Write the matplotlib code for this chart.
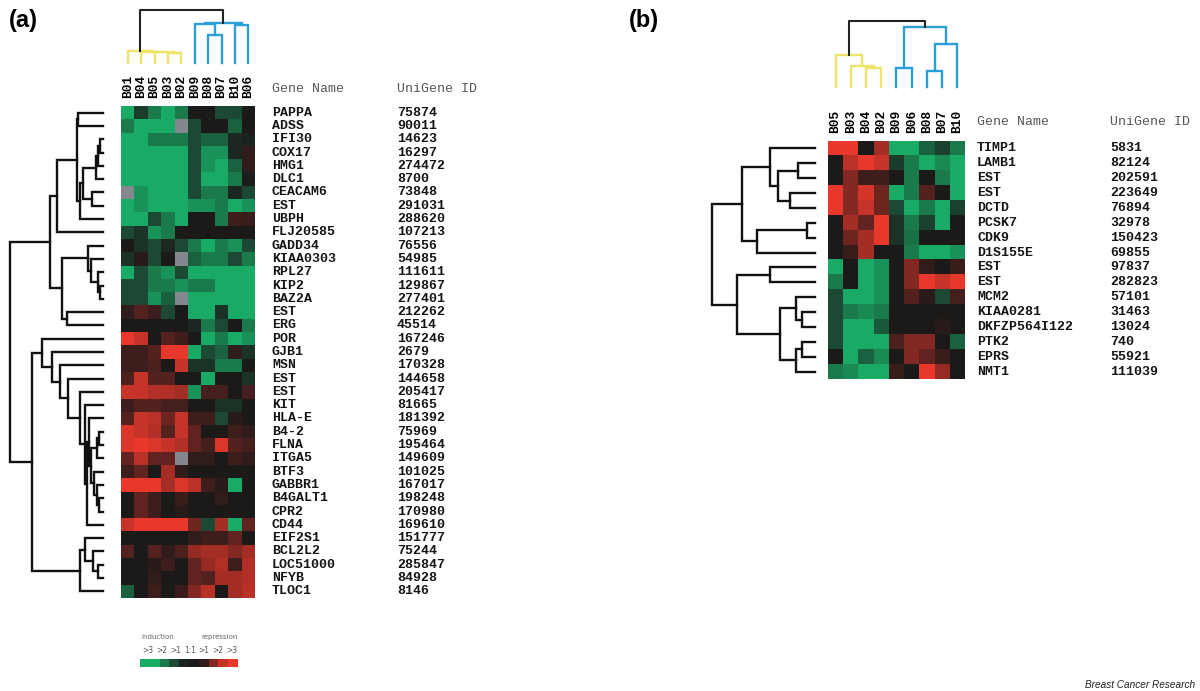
import numpy as np
import matplotlib.pyplot as plt
from matplotlib.colors import LinearSegmentedColormap

# ---------------- panel (a) data ----------------
cols_a = ['B01', 'B04', 'B05', 'B03', 'B02', 'B09', 'B08', 'B07', 'B10', 'B06']
genes_a = ['PAPPA', 'ADSS', 'IFI30', 'COX17', 'HMG1', 'DLC1', 'CEACAM6', 'EST', 'UBPH',
           'FLJ20585', 'GADD34', 'KIAA0303', 'RPL27', 'KIP2', 'BAZ2A', 'EST', 'ERG', 'POR',
           'GJB1', 'MSN', 'EST', 'EST', 'KIT', 'HLA-E', 'B4-2', 'FLNA', 'ITGA5', 'BTF3',
           'GABBR1', 'B4GALT1', 'CPR2', 'CD44', 'EIF2S1', 'BCL2L2', 'LOC51000', 'NFYB', 'TLOC1']
ids_a = ['75874', '90011', '14623', '16297', '274472', '8700', '73848', '291031', '288620',
         '107213', '76556', '54985', '111611', '129867', '277401', '212262', '45514', '167246',
         '2679', '170328', '144658', '205417', '81665', '181392', '75969', '195464', '149609',
         '101025', '167017', '198248', '170980', '169610', '151777', '75244', '285847', '84928',
         '8146']
# log ratio style values: negative = induction (green), positive = repression (red), None = missing
vals_a = [
    [-3, -0.7, -2, -3, -2, 0, 0, -1, -1, 0],
    [-2, -3, -3, -3, None, -1, 0, 0, -1.5, 0],
    [-3, -3, -2, -2, -2, -1, -1.5, -1.5, -0.3, -0.2],
    [-3, -3, -3, -3, -3, -1, -2.5, -2.5, -0.3, 0.3],
    [-3, -3, -3, -3, -3, -1, -2.5, -3, -1.5, 0.3],
    [-3, -3, -3, -3, -3, -1, -3, -3, -2, -0.1],
    [None, -2.5, -3, -3, -3, -1, -2, -2, -0.3, -1],
    [-3, -2.5, -3, -3, -3, -2.5, -2.5, -2, -3, -2.5],
    [-3, -3, -1, -2, -3, 0, 0, -2, 0.5, 0.4],
    [-1, -0.5, -2.5, -2, 0, 0, 0, 0, 0, 0],
    [0, -0.5, -1, -0.3, -1, -2, -3, -2, -2.5, -1],
    [-0.5, 0.2, -1, 0, None, -1.5, -2, -2, -1, -2],
    [-3, -1, -2, -2.5, -1, -3, -3, -3, -3, -3],
    [-1, -1, -2, -2, -2.5, -2, -2, -3, -3, -3],
    [-1, -1, -2.5, -1.5, None, -3, -3, -3, -3, -3],
    [0.3, 0.8, 0.5, -1, 0, -3, -3, -0.5, -3, -3],
    [0, 0, 0, 0, 0, -0.3, -2, -1, 0, -2],
    [3, 2.5, 0, 0.8, 0.5, 0, -3, -2, -3, -2.5],
    [0.5, 0.5, 0.8, 3, 3, -3, -1, -1.5, 0.3, -0.5],
    [0.5, 0.5, 0.7, 0, 2.5, -0.5, -0.5, -2, -2, 0],
    [0.7, 2.5, 0.8, 0.8, 0, 0, -3, 0, 0, -0.5],
    [2.5, 2.5, 2.2, 2.2, 2, -2.5, 0.6, 0.6, 0, 0.6],
    [0.5, 0.8, 0.8, 0.6, 0.6, 0, 0, -0.5, -0.5, 0],
    [0.8, 2.5, 2.3, 1.2, 2.5, 0.5, 0.5, -1, 0.2, 0],
    [2.8, 2.5, 2.2, 0.8, 2.5, 1, 0, 0, 0.5, 0.3],
    [2.8, 3, 2.8, 2.5, 2.2, 1, 0.6, 2.8, 0.8, 0.6],
    [1, 2.3, 1, 1, None, 0.3, 0.3, 0, 0.5, 0.3],
    [0.5, 1, 0, 2, 0.3, 0, 0, 0, 0, 0],
    [3, 3, 3, 2, 2.8, 2.3, 0.5, 0.2, -3, 0],
    [0, 1, 0.5, 0, 0.4, 0, 0, 0.3, 0, 0],
    [0, 1, 0.5, 0, 0.2, 0, 0, 0, 0, 0],
    [2.5, 3, 3, 3, 3, 1.2, -1, 2, -3, 1],
    [0, 0, 0, 0, 0, 0.3, 0.5, 0.5, 1, 0],
    [0.8, 0, 0.8, 0.3, 0.7, 1.8, 2, 2, 1.5, 2],
    [0, 0, 0.2, 0.5, 0, 1, 1.8, 2.2, 0.5, 2.2],
    [0, 0, 0.3, 0, 0, 1, 0.8, 2, 2, 2.2],
    [-1.5, 0, 0.5, 0, 0.4, 1.5, 2.3, 0, 2, 2.3],
]
# trees: (left, right, merge height); ints are leaf indices
row_tree_a = (
    ((((0, 1, 25), (((((2, 3, 3), 4, 5), 5, 7), (6, 7, 11), 20), 8, 23), 26), 9, 46),
     ((10, (11, (12, (13, 14, 3), 5), 12), 15), (15, 16, 36), 41), 53),
    ((17, (18, (19, (20, (21, (22, ((23, (((24, 25, 4), 26, 6), (27, (28, (29, 30, 4), 6), 9), 12), 14),
                                    31, 16), 18), 23), 35), 43), 51), 61),
     ((32, (33, (34, 35, 5), 10), 18), 36, 23), 71),
    93)
col_yellow_a = (0, (1, (2, (3, 4, 10.5), 11), 11.5), 12)
col_blue_a = ((5, (6, 7, 28), 39), (8, 9, 38), 40)
col_root_a = 53

# ---------------- panel (b) data ----------------
cols_b = ['B05', 'B03', 'B04', 'B02', 'B09', 'B06', 'B08', 'B07', 'B10']
genes_b = ['TIMP1', 'LAMB1', 'EST', 'EST', 'DCTD', 'PCSK7', 'CDK9', 'D1S155E', 'EST', 'EST',
           'MCM2', 'KIAA0281', 'DKFZP564I122', 'PTK2', 'EPRS', 'NMT1']
ids_b = ['5831', '82124', '202591', '223649', '76894', '32978', '150423', '69855', '97837',
         '282823', '57101', '31463', '13024', '740', '55921', '111039']
vals_b = [
    [3, 3, 0, 2, -3, -3, -1.5, -0.8, -2],
    [0, 2.3, 3, 2.5, -0.7, -2, -3, -2.3, -3],
    [0, 1.5, 0.5, 0.5, 0, -2, 0, -2, -3],
    [3, 1.5, 2.7, 1.2, -3, -2, 0.8, 0, -3],
    [3, 1.5, 2.5, 1.2, -1, -3, -2, -3, -0.8],
    [0, 2, 1, 3, -0.5, -2, -0.8, -3, 0],
    [0, 1.2, 2, 3, -0.5, -1.8, 0, 0, 0],
    [0, 0.4, 2, 0, 0, -2, -3, -3, -2.5],
    [-3, 0, -3, -2.5, 0, 1.5, 0.3, 0, 0.4],
    [-2, 0, -3, -2.5, 0, 1.5, 3, 2.5, 3],
    [-1, -3, -3, -2.5, 0, 0.8, 0.2, -1, 0.6],
    [-1, -2, -2.3, -2, 0, 0, 0, 0, 0],
    [-1, -3, -3, -1.3, 0, 0, 0, 0.2, 0],
    [-1, -3, -3, -3, 0.7, 1.5, 1.5, 0, -1.5],
    [0, -3, -1.5, -2.3, 0, 1.5, 1, 0.4, 0],
    [-2, -2.3, -3, -3, 0.4, 0, 3, 1.8, 0],
]
row_tree_b = (
    ((0, ((1, 2, 17), (3, 4, 25), 37), 45), ((5, 6, 8), 7, 58), 73),
    ((8, 9, 45), ((10, (11, 12, 13), 19), ((13, 14, 13), 15, 19), 35), 78),
    103)
col_yellow_b = (0, (1, (2, 3, 19), 21), 32)
col_blue_b = ((4, 5, 19), ((6, 7, 16), 8, 43), 60)
col_root_b = 66

legend_values = [-3, -3, -2, -1, -0.2, 0, 0.3, 1.5, 2.5, 3]
legend_ticks = ['>3', '>2', '>1', '1:1', '>1', '>2', '>3']

# ---------------- drawing ----------------
W, H = 1200, 691
fig = plt.figure(figsize=(W / 100, H / 100), dpi=100)
mono = 'Liberation Mono'
yellow = '#ede46a'
blue = '#2b9fd8'

cmap = LinearSegmentedColormap.from_list(
    'gr', [(0.10, 0.67, 0.40), (0.11, 0.10, 0.10), (0.91, 0.22, 0.17)])
cmap.set_bad((0.52, 0.53, 0.56))


def box(x0, y0, x1, y1):
    return [x0 / W, 1 - y1 / H, (x1 - x0) / W, (y1 - y0) / H]


def draw_tree(ax, node, color, lw, rows):
    if isinstance(node, int):
        return node, 0.0
    left, right, h = node
    p1, h1 = draw_tree(ax, left, color, lw, rows)
    p2, h2 = draw_tree(ax, right, color, lw, rows)
    if rows:
        ax.plot([h1, h, h, h2], [p1, p1, p2, p2], color=color, lw=lw, clip_on=False,
                solid_joinstyle='miter')
    else:
        ax.plot([p1, p1, p2, p2], [h1, h, h, h2], color=color, lw=lw, clip_on=False,
                solid_joinstyle='miter')
    return (p1 + p2) / 2, h


def panel(vals, cols, genes, ids, row_tree, col_y, col_b, col_root,
          heat, dend_r, dend_c, lab_x, id_off):
    data = np.array(vals, dtype=float)
    n, m = data.shape

    ax = fig.add_axes(box(*heat))
    ax.imshow(data, cmap=cmap, vmin=-3, vmax=3, aspect='auto', interpolation='nearest')
    ax.xaxis.tick_top()
    ax.set_xticks(range(m))
    ax.set_xticklabels(cols, rotation=90, family=mono, weight='bold', fontsize=9.3)
    ax.set_yticks([])
    ax.tick_params(length=0, pad=6)
    for s in ax.spines.values():
        s.set_visible(False)

    axr = fig.add_axes(box(*dend_r))
    draw_tree(axr, row_tree, '#111111', 1.7, True)
    axr.set_xlim(row_tree[2], 0)
    axr.set_ylim(n - 0.5, -0.5)
    axr.axis('off')

    axc = fig.add_axes(box(*dend_c))
    py, hy = draw_tree(axc, col_y, yellow, 1.7, False)
    pb, hb = draw_tree(axc, col_b, blue, 1.7, False)
    axc.plot([py, py, pb, pb], [hy, col_root, col_root, hb], color='#222222', lw=1.5,
             clip_on=False)
    axc.set_xlim(-0.5, m - 0.5)
    axc.set_ylim(0, col_root)
    axc.axis('off')

    axl = fig.add_axes(box(lab_x, heat[1], lab_x + 220, heat[3]))
    axl.set_xlim(0, 220)
    axl.set_ylim(n - 0.5, -0.5)
    axl.axis('off')
    for i in range(n):
        axl.text(0, i, genes[i], family=mono, weight='bold', fontsize=9.5, va='center',
                 color='#151515')
        axl.text(id_off, i, ids[i], family=mono, weight='bold', fontsize=9.5, va='center',
                 color='#151515')
    axl.text(0, -1.8, 'Gene Name', family=mono, fontsize=9.5, va='center', color='#555555',
             clip_on=False)
    axl.text(id_off, -1.8, 'UniGene ID', family=mono, fontsize=9.5, va='center',
             color='#555555', clip_on=False)


panel(vals_a, cols_a, genes_a, ids_a, row_tree_a, col_yellow_a, col_blue_a, col_root_a,
      heat=(121, 106, 255, 598), dend_r=(10, 106, 103, 598), dend_c=(121, 10, 255, 63),
      lab_x=272, id_off=125)
panel(vals_b, cols_b, genes_b, ids_b, row_tree_b, col_yellow_b, col_blue_b, col_root_b,
      heat=(828, 141, 965, 379), dend_r=(712, 141, 815, 379), dend_c=(828, 21, 965, 87),
      lab_x=977, id_off=133)

# colour key under panel (a)
axk = fig.add_axes(box(140, 659, 238, 667))
axk.imshow(np.array([legend_values]), cmap=cmap, vmin=-3, vmax=3, aspect='auto')
axk.axis('off')
tick_x = np.linspace(0.08, 0.94, len(legend_ticks))
for x, t in zip(tick_x, legend_ticks):
    axk.text(x, 2.1, t, transform=axk.transAxes, ha='center', va='center', fontsize=5.5,
             color='#555555')
axk.text(0.18, 3.8, 'induction', transform=axk.transAxes, ha='center', va='center',
         fontsize=5, color='#666666')
axk.text(0.81, 3.8, 'repression', transform=axk.transAxes, ha='center', va='center',
         fontsize=5, color='#666666')

fig.text(9 / W, 1 - 21 / H, '(a)', fontsize=17, weight='bold', va='center',
         family='Liberation Sans')
fig.text(629 / W, 1 - 21 / H, '(b)', fontsize=17, weight='bold', va='center',
         family='Liberation Sans')
fig.text(1195 / W, 1 - 685 / H, 'Breast Cancer Research', ha='right', va='center',
         style='italic', fontsize=7.2, color='#222222', family='Liberation Sans')

fig.savefig('out.png', dpi=100)
